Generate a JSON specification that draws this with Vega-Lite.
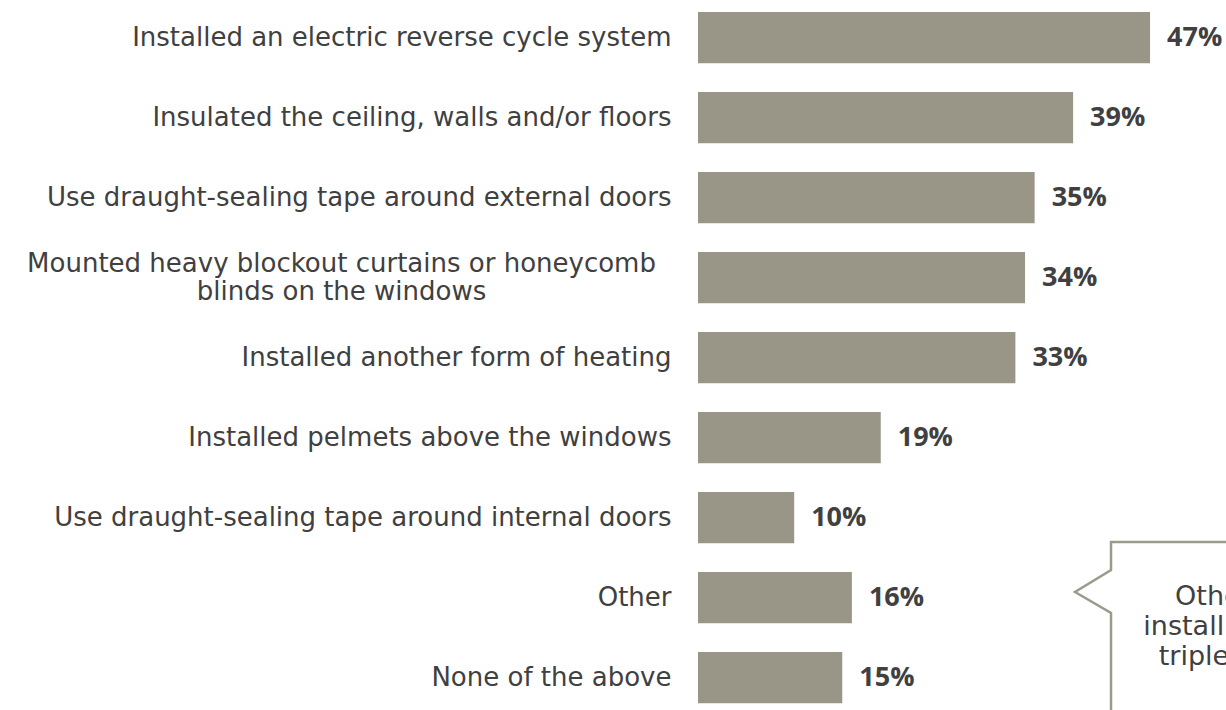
{
  "$schema": "https://vega.github.io/schema/vega-lite/v6.json",
  "width": 529,
  "height": 710,
  "autosize": "none",
  "padding": {"left": 698, "top": 0, "right": 0, "bottom": 0},
  "background": "white",
  "config": {"view": {"stroke": null}},
  "datasets": {
    "bars": [
      {"item": "Installed an electric reverse cycle system", "pct": 47, "label": "47%"},
      {"item": "Insulated the ceiling, walls and/or floors", "pct": 39, "label": "39%"},
      {"item": "Use draught-sealing tape around external doors", "pct": 35, "label": "35%"},
      {"item": "Mounted heavy blockout curtains or honeycomb blinds on the windows", "pct": 34, "label": "34%"},
      {"item": "Installed another form of heating", "pct": 33, "label": "33%"},
      {"item": "Installed pelmets above the windows", "pct": 19, "label": "19%"},
      {"item": "Use draught-sealing tape around internal doors", "pct": 10, "label": "10%"},
      {"item": "Other", "pct": 16, "label": "16%"},
      {"item": "None of the above", "pct": 15, "label": "15%"}
    ],
    "callout": [
      {"cx": 57, "cy": 542, "ord": 1},
      {"cx": 42.94, "cy": 542, "ord": 2},
      {"cx": 42.94, "cy": 570, "ord": 3},
      {"cx": 39.2, "cy": 592, "ord": 4},
      {"cx": 42.94, "cy": 613, "ord": 5},
      {"cx": 42.94, "cy": 710, "ord": 6}
    ],
    "note": [
      {"tx": 49.6, "ty": 605, "txt": "Other includes"},
      {"tx": 46.3, "ty": 635, "txt": "installing double or"},
      {"tx": 47.9, "ty": 665, "txt": "triple glazing"}
    ]
  },
  "layer": [
    {
      "data": {"name": "bars"},
      "encoding": {
        "y": {
          "field": "item", "type": "nominal", "sort": null, "title": null,
          "scale": {"paddingInner": 0.36, "paddingOuter": 0.1175, "align": 0.638},
          "axis": {
            "domain": false, "ticks": false,
            "labelFont": "DejaVu Sans", "labelFontSize": 26, "labelColor": "#404040",
            "labelLimit": 800, "labelLineHeight": 28,
            "labelAlign": {"condition": {"test": "indexof(datum.value, 'Mounted') == 0", "value": "center"}, "value": "right"},
            "labelPadding": {"condition": {"test": "indexof(datum.value, 'Mounted') == 0", "value": 357}, "value": 27},
            "labelOffset": {"condition": {"test": "indexof(datum.value, 'Mounted') == 0", "value": -14}, "value": 0},
            "labelExpr": "indexof(datum.value, 'Mounted') == 0 ? ['Mounted heavy blockout curtains or honeycomb', 'blinds on the windows'] : datum.value"
          }
        },
        "x": {"field": "pct", "type": "quantitative", "scale": {"domain": [0, 55]}, "axis": null}
      },
      "layer": [
        {"mark": {"type": "bar", "color": "#999688"}},
        {
          "mark": {"type": "text", "align": "left", "baseline": "middle", "dx": 17, "font": "Open Sans", "fontWeight": "bold", "fontSize": 27, "color": "#404040"},
          "encoding": {"text": {"field": "label"}}
        }
      ]
    },
    {
      "data": {"name": "callout"},
      "mark": {"type": "line", "color": "#9b9b8b", "strokeWidth": 2.5},
      "encoding": {
        "x": {"field": "cx", "type": "quantitative", "scale": {"domain": [0, 55]}, "axis": null},
        "y": {"field": "cy", "type": "quantitative", "scale": {"domain": [0, 710], "reverse": true}, "axis": null},
        "order": {"field": "ord"}
      }
    },
    {
      "data": {"name": "note"},
      "mark": {"type": "text", "align": "left", "baseline": "alphabetic", "font": "DejaVu Sans", "fontSize": 27, "color": "#404040"},
      "encoding": {
        "x": {"field": "tx", "type": "quantitative", "scale": {"domain": [0, 55]}, "axis": null},
        "y": {"field": "ty", "type": "quantitative", "scale": {"domain": [0, 710], "reverse": true}, "axis": null},
        "text": {"field": "txt"}
      }
    }
  ],
  "resolve": {"scale": {"y": "independent"}}
}
